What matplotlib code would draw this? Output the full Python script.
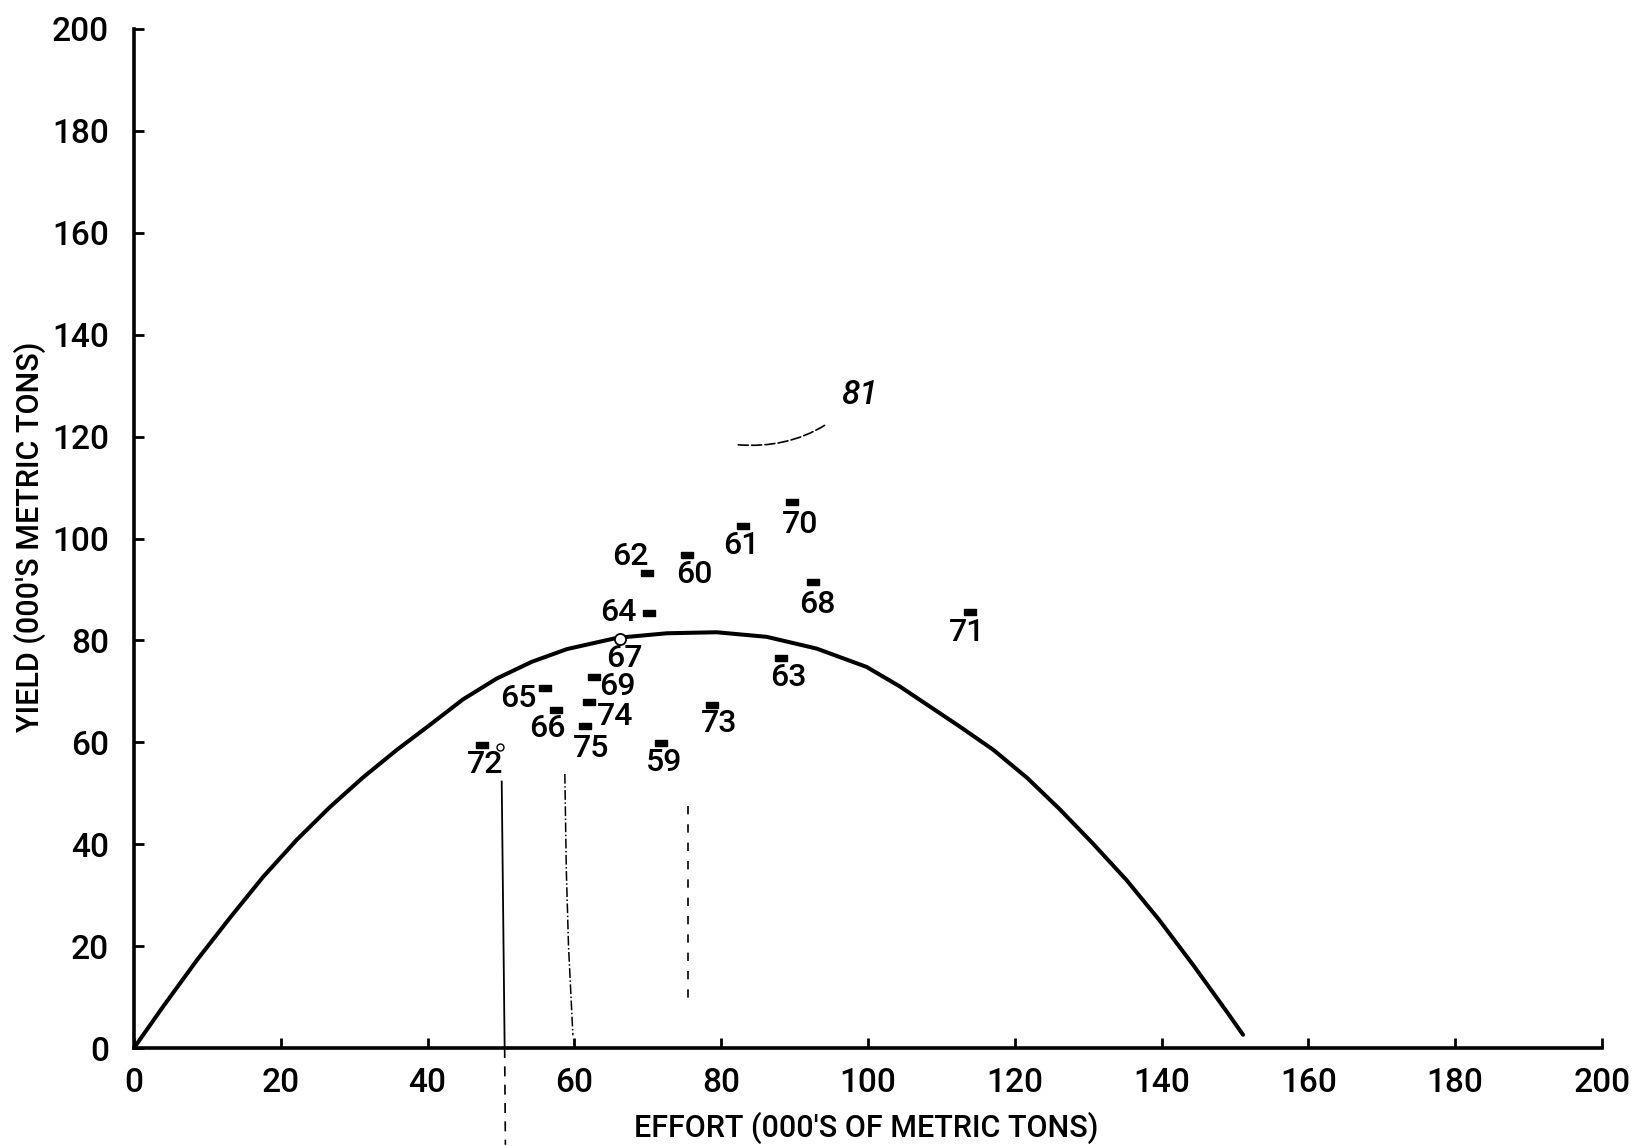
import matplotlib
matplotlib.use("Agg")
import matplotlib.pyplot as plt

plt.rcParams['font.family'] = ['Roboto', 'DejaVu Sans']
plt.rcParams['font.weight'] = 'medium'

# Datos (miles de toneladas)
years = ['70', '61', '60', '62', '68', '64', '71', '67', '63',
         '69', '65', '74', '73', '66', '75', '59', '72']
effort = [89.6, 83.0, 75.4, 69.9, 92.5, 70.2, 113.9, 66.2, 88.2,
          62.7, 56.0, 62.0, 78.8, 57.5, 61.5, 71.8, 47.4]
catch = [107.1, 102.4, 96.7, 93.2, 91.5, 85.4, 85.6, 80.2, 76.5,
         72.9, 70.6, 67.9, 67.3, 66.3, 63.2, 59.9, 59.5]
open_years = ['67']

# Curva de rendimiento
curve_effort = [0, 3.9, 8.6, 13.1, 17.6, 22.2, 26.7, 31.2, 35.8, 40.3, 44.8,
                49.4, 54.2, 59.0, 65.8, 72.6, 79.4, 86.2, 93.0, 99.8, 104.3,
                112.5, 117.1, 121.7, 126.1, 130.6, 135.2, 139.7, 144.3, 148.9, 151.1]
curve_yield = [0, 8.0, 17.3, 25.6, 33.6, 40.9, 47.3, 53.1, 58.5, 63.4, 68.4,
               72.5, 75.8, 78.3, 80.5, 81.4, 81.6, 80.7, 78.4, 74.8, 71.0,
               63.1, 58.5, 53.0, 46.9, 40.2, 33.0, 25.1, 16.3, 7.1, 2.6]

# Lineas verticales trazadas a mano
solid_x, solid_y = [50.1, 50.5], [52.3, 0]
below_x, below_y = [50.5, 50.6], [0, -19]
dashdot_x, dashdot_y = [58.7, 58.9, 59.2, 59.8], [53.8, 35, 20, 2.5]
dashed_x, dashed_y = [75.5, 75.5], [47.5, 8]

ticks = list(range(0, 201, 20))

# Desplazamiento de cada etiqueta (puntos)
offsets = {'70': (6, -16), '61': (-1.5, -13.5), '60': (5, -13.5), '62': (-12, 12),
           '68': (3, -16.5), '64': (-22, 0), '71': (-2, -15), '67': (3, -14),
           '63': (5, -14), '69': (17, -7), '65': (-19, -7), '74': (19, -10.5),
           '73': (5, -13.5), '66': (-6, -13.5), '75': (4, -16), '59': (2, -14),
           '72': (2, -14)}

fig = plt.figure(figsize=(16.4, 11.46), dpi=100)
ax = fig.add_axes([0.0817, 0.0855, 0.8951, 0.8892])

rect = [(-1, -0.6), (1, -0.6), (1, 0.6), (-1, 0.6), (-1, -0.6)]

# Curva
ax.plot(curve_effort, curve_yield, color='black', linewidth=2.9,
        solid_capstyle='round', solid_joinstyle='round')

# Lineas verticales
ax.plot(solid_x, solid_y, color='black', linewidth=1.3)
ax.plot(below_x, below_y, color='black', linewidth=1.2, linestyle=(0, (6, 5)),
        clip_on=False)
ax.plot(dashdot_x, dashdot_y, color='black', linewidth=1.1, linestyle='-.')
ax.plot(dashed_x, dashed_y, color='black', linewidth=1.2, linestyle=(0, (5, 6)))

# Puntos anuales
for yr, e, c in zip(years, effort, catch):
    if yr in open_years:
        ax.plot(e, c, marker='o', markersize=8, markerfacecolor='white',
                markeredgecolor='black', markeredgewidth=1.3, zorder=4)
    else:
        ax.plot(e, c, marker=rect, markersize=8, color='black', zorder=4)
    ax.annotate(yr, (e, c), xytext=offsets[yr], textcoords='offset points',
                ha='center', va='center', fontsize=23)

# Marca abierta junto a 72
ax.plot(49.8, 59.1, marker='o', markersize=5, markerfacecolor='white',
        markeredgecolor='black', markeredgewidth=1.0)

# Anotacion manuscrita
ax.annotate('81', xy=(82.2, 118.4), xytext=(98.9, 128.1), fontsize=24,
            style='italic', ha='center', va='center',
            arrowprops=dict(arrowstyle='-', color='black', lw=1.2,
                            linestyle=(0, (6, 2)),
                            connectionstyle='arc3,rad=-0.25',
                            shrinkA=14, shrinkB=0))

ax.set_xlim(0, 200)
ax.set_ylim(0, 200)
ax.set_xticks(ticks)
ax.set_yticks(ticks)
ax.tick_params(axis='both', direction='in', length=7, width=2, labelsize=24)
ax.tick_params(axis='x', pad=14)
ax.tick_params(axis='y', pad=18)

for side in ['top', 'right']:
    ax.spines[side].set_visible(False)
for side in ['left', 'bottom']:
    ax.spines[side].set_linewidth(2.6)

fig.text(0.528, 0.016, "EFFORT (000'S OF METRIC TONS)", ha='center',
         va='center', fontsize=22)
fig.text(0.018, 0.532, "YIELD (000'S METRIC TONS)", ha='center',
         va='center', fontsize=22, rotation=90)

fig.savefig('out.png', dpi=100)
